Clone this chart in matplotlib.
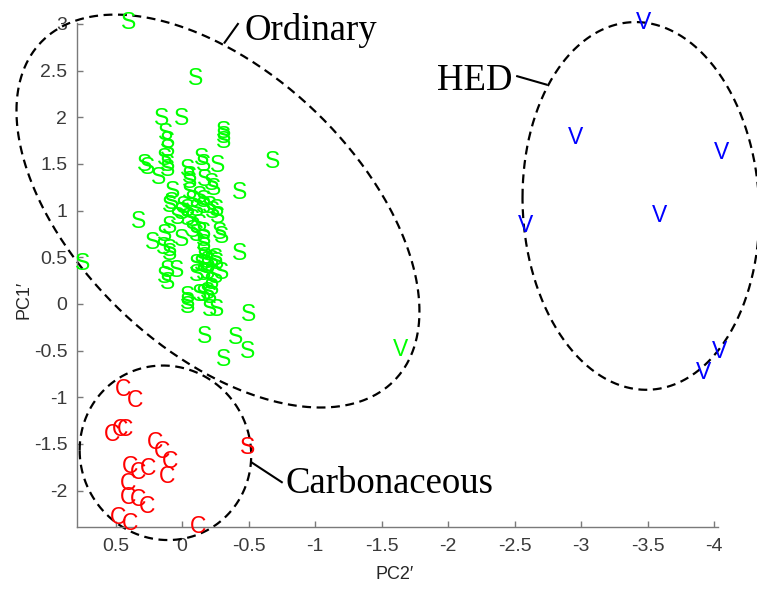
import numpy as np
import matplotlib
matplotlib.use("Agg")
import matplotlib.pyplot as plt

plt.rcParams['axes.unicode_minus'] = False

# ordinary chondrites (green S)
ord_x = [0.405, -0.10, 0.15, 0.00, -0.315, -0.315, -0.31, 0.12, 0.11, 0.11,
         0.13, 0.11, 0.28, 0.26, 0.18, 0.105, -0.68, -0.15, -0.16, -0.27,
         -0.045, -0.06, -0.06, -0.17, -0.225, -0.24, 0.07, -0.43, 0.075, -0.06,
         -0.08, -0.135, -0.16, -0.01, -0.04, 0.00, 0.03, -0.11, -0.16, -0.21,
         -0.23, -0.26, -0.27, 0.33, 0.09, -0.08, -0.04, 0.09, -0.135, -0.08,
         -0.16, -0.11, -0.285, 0.13, 0.00, 0.225, 0.14, 0.09, 0.09, -0.16,
         -0.16, -0.30, -0.435, -0.16, -0.17, -0.195, -0.225, -0.25, -0.26, -0.15,
         -0.19, -0.11, -0.11, -0.16, -0.195, -0.25, -0.30, 0.105, 0.04, 0.13,
         0.105, -0.225, -0.225, -0.195, -0.16, -0.045, -0.045, -0.04, -0.135, -0.21,
         -0.21, -0.26, 0.75, -0.50, -0.17, -0.40, -0.49, -0.315]
ord_y = [3.02, 2.42, 1.99, 1.99, 1.85, 1.79, 1.74, 1.83, 1.74, 1.65,
         1.56, 1.49, 1.49, 1.46, 1.35, 1.44, 1.53, 1.56, 1.49, 1.48,
         1.44, 1.37, 1.31, 1.33, 1.29, 1.24, 1.21, 1.19, 1.09, 1.19,
         1.11, 1.15, 1.11, 1.04, 1.01, 0.98, 0.93, 1.01, 1.04, 1.04,
         0.99, 1.01, 0.94, 0.88, 1.06, 0.90, 0.92, 0.83, 0.85, 0.79,
         0.77, 0.74, 0.77, 0.74, 0.69, 0.66, 0.61, 0.58, 0.54, 0.69,
         0.64, 0.72, 0.54, 0.55, 0.50, 0.45, 0.47, 0.49, 0.44, 0.42,
         0.40, 0.42, 0.31, 0.33, 0.34, 0.29, 0.34, 0.36, 0.36, 0.29,
         0.23, 0.23, 0.17, 0.12, 0.10, 0.08, 0.01, -0.03, 0.10, 0.08,
         -0.06, -0.06, 0.43, -0.11, -0.35, -0.36, -0.51, -0.60]
ord_v_x = [-1.645]
ord_v_y = [-0.49]

# carbonaceous (red C)
carb_x = [0.44, 0.35, 0.525, 0.465, 0.43, 0.20, 0.15, 0.09, 0.11, 0.39,
          0.33, 0.255, 0.405, 0.405, 0.33, 0.26, 0.48, 0.39, -0.12]
carb_y = [-0.92, -1.03, -1.40, -1.35, -1.35, -1.49, -1.58, -1.69, -1.85, -1.74,
          -1.81, -1.76, -1.92, -2.07, -2.10, -2.17, -2.29, -2.35, -2.39]
carb_s_x = [-0.49]
carb_s_y = [-1.54]

# HED (blue V)
hed_x = [-3.47, -2.96, -4.06, -3.59, -2.58, -4.04, -3.92]
hed_y = [3.02, 1.78, 1.62, 0.95, 0.84, -0.51, -0.74]

groups = [
    (ord_x, ord_y, "S", "#00ff00"),
    (ord_v_x, ord_v_y, "V", "#00ff00"),
    (carb_x, carb_y, "C", "#ff0000"),
    (carb_s_x, carb_s_y, "S", "#ff0000"),
    (hed_x, hed_y, "V", "#0000ff"),
]

# cluster ellipses: center, sd_x, sd_y, corr
ellipses = [
    ((-0.27, 0.995), 1.515, 2.105, 0.51),
    ((0.125, -1.595), 0.645, 0.935, 0.03),
    ((-3.45, 1.05), 0.89, 1.97, 0.045),
]

sans = ["Liberation Sans", "DejaVu Sans"]
serif = ["Liberation Serif", "DejaVu Serif"]

fig = plt.figure(figsize=(7.57, 5.9), dpi=100)
ax = fig.add_axes([0.1017, 0.1068, 0.8468, 0.8542])

for xs, ys, letter, col in groups:
    for x, y in zip(xs, ys):
        ax.text(x, y, letter, color=col, fontsize=16.5, family=sans,
                ha="center", va="center")

t = np.linspace(0, 2 * np.pi, 400)
for (cx, cy), sx, sy, r in ellipses:
    cov = np.array([[sx * sx, r * sx * sy], [r * sx * sy, sy * sy]])
    L = np.linalg.cholesky(cov)
    pts = L @ np.vstack([np.cos(t), np.sin(t)])
    ax.plot(cx + pts[0], cy + pts[1], color="black", lw=1.6,
            linestyle=(0, (4, 2.5)), clip_on=False)

# labels with leader lines
ax.plot([-0.32, -0.42], [2.80, 3.00], color="black", lw=1.5, clip_on=False)
ax.text(-0.47, 2.83, "Ordinary", fontsize=26.5, family=serif, ha="left", va="baseline")
ax.plot([-2.52, -2.74], [2.44, 2.35], color="black", lw=1.5, clip_on=False)
ax.text(-1.92, 2.29, "HED", fontsize=26.5, family=serif, ha="left", va="baseline")
ax.plot([-0.525, -0.75], [-1.70, -1.91], color="black", lw=1.5, clip_on=False)
ax.text(-0.78, -2.03, "Carbonaceous", fontsize=26.5, family=serif, ha="left", va="baseline")

ax.set_xlim(0.79, -4.03)
ax.set_ylim(-2.39, 3.01)
ax.set_xticks(np.arange(0.5, -4.01, -0.5))
ax.set_xticklabels(["0.5", "0", "-0.5", "-1", "-1.5", "-2", "-2.5", "-3", "-3.5", "-4"])
ax.set_yticks(np.arange(-2, 3.01, 0.5))
ax.set_yticklabels(["-2", "-1.5", "-1", "-0.5", "0", "0.5", "1", "1.5", "2", "2.5", "3"])

for side in ("top", "right"):
    ax.spines[side].set_visible(False)
for side in ("left", "bottom"):
    ax.spines[side].set_color("#7a7a7a")
    ax.spines[side].set_linewidth(1.0)
ax.tick_params(direction="in", length=4, width=1, color="#7a7a7a",
               labelsize=14, labelcolor="#3a3a3a")
ax.tick_params(axis="x", pad=8)
ax.tick_params(axis="y", pad=7)
for lab in ax.get_xticklabels() + ax.get_yticklabels():
    lab.set_family(sans)

ax.set_xlabel("PC2\u2032", fontsize=13, color="#262626", family=sans)
ax.set_ylabel("PC1\u2032", fontsize=13, color="#262626", family=sans)
ax.xaxis.set_label_coords(0.496, -0.078)
ax.yaxis.set_label_coords(-0.07, 0.45)

fig.savefig("out.png", dpi=100)
